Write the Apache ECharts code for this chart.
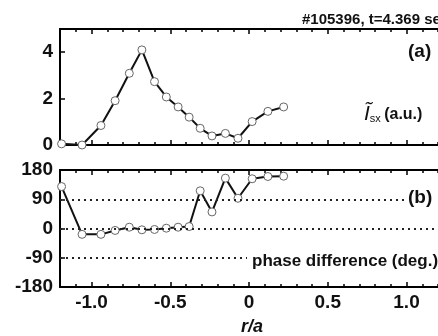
<!DOCTYPE html>
<html>
<head>
<meta charset="utf-8">
<script src="https://cdn.jsdelivr.net/npm/echarts@6/dist/echarts.min.js"></script>
<style>
  html, body { margin: 0; padding: 0; background: #fff; }
  #chart { width: 438px; height: 336px; }
</style>
</head>
<body>
<div id="chart"></div>
<script>
// radial positions r/a (shared by both panels)
const rPos = [-1.19, -1.06, -0.94, -0.85, -0.76, -0.68, -0.60, -0.525, -0.45, -0.38, -0.31, -0.235, -0.15, -0.07, 0.02, 0.12, 0.22];
// panel (a): soft x-ray fluctuation amplitude (a.u.)
const isxAmp = [0.05, 0.0, 0.84, 1.91, 3.09, 4.1, 2.73, 2.07, 1.64, 1.2, 0.72, 0.39, 0.5, 0.29, 1.01, 1.45, 1.64];
// panel (b): phase difference (deg.)
const phaseDiff = [129, -18, -18, -6, 4, -4, -3, 1, 4, 6, 116, 51, 155, 93, 153, 160, 161];

const xMajor = [-1.0, -0.5, 0, 0.5, 1.0];
const yTicksA = [0, 2, 4];
const yTicksB = [-180, -90, 0, 90, 180];

// minor tick positions every 0.1
const xMinor = [];
for (let i = -12; i <= 12; i++) xMinor.push(i / 10);

const font = "Liberation Sans";

function mkX(grid, position, ticks, len, showLabel) {
  return {
    type: "value", gridIndex: grid, position: position,
    min: -1.2, max: 1.2,
    axisLine: { show: true, onZero: false, lineStyle: { color: "#000", width: 2 } },
    axisTick: { show: true, inside: true, length: len, customValues: ticks,
      lineStyle: { color: "#000", width: 1.5 } },
    axisLabel: { show: showLabel, customValues: xMajor, margin: 6,
      fontFamily: font, fontWeight: "bold", fontSize: 19, color: "#111",
      formatter: v => (v === 0 ? "0" : v.toFixed(1)) },
    splitLine: { show: false }
  };
}

const chart = echarts.init(document.getElementById("chart"));
chart.setOption({
  animation: false,
  backgroundColor: "#fff",
  grid: [
    { left: 60, top: 29, width: 389, height: 116 },
    { left: 60, top: 170, width: 389, height: 117 }
  ],
  xAxis: [
    mkX(0, "bottom", xMajor, 5, false),
    mkX(0, "bottom", xMinor, 3, false),
    mkX(0, "top", xMajor, 5, false),
    mkX(0, "top", xMinor, 3, false),
    mkX(1, "bottom", xMajor, 5, true),
    mkX(1, "bottom", xMinor, 3, false),
    mkX(1, "top", xMajor, 5, false),
    mkX(1, "top", xMinor, 3, false)
  ],
  yAxis: [
    {
      type: "value", gridIndex: 0, min: 0, max: 5,
      axisLine: { show: true, onZero: false, lineStyle: { color: "#000", width: 2 } },
      axisTick: { show: true, inside: true, length: 5, customValues: yTicksA,
        lineStyle: { color: "#000", width: 1.5 } },
      axisLabel: { customValues: yTicksA, margin: 7, fontFamily: font,
        fontWeight: "bold", fontSize: 19, color: "#111" },
      splitLine: { show: false }
    },
    {
      type: "value", gridIndex: 1, min: -180, max: 180, interval: 90,
      axisLine: { show: true, onZero: false, lineStyle: { color: "#000", width: 2 } },
      axisTick: { show: true, inside: true, length: 5, customValues: yTicksB,
        lineStyle: { color: "#000", width: 1.5 } },
      axisLabel: { customValues: yTicksB, margin: 7, fontFamily: font, fontWeight: "bold",
        fontSize: 19, color: "#111" },
      splitLine: { show: false }
    }
  ],
  series: [
    {
      type: "line", xAxisIndex: 0, yAxisIndex: 0,
      data: rPos.map((r, i) => [r, isxAmp[i]]),
      symbol: "circle", symbolSize: 8,
      itemStyle: { color: "#fff", borderColor: "#666", borderWidth: 1 },
      lineStyle: { color: "#111", width: 2 }
    },
    {
      type: "line", xAxisIndex: 4, yAxisIndex: 1,
      data: rPos.map((r, i) => [r, phaseDiff[i]]),
      symbol: "circle", symbolSize: 8,
      itemStyle: { color: "#fff", borderColor: "#666", borderWidth: 1 },
      lineStyle: { color: "#111", width: 2 },
      markLine: {
        silent: true, symbol: "none", label: { show: false },
        lineStyle: { color: "#222", type: [2, 4], width: 2 },
        data: [{ yAxis: 90 }, { yAxis: 0 }, { yAxis: -90 }]
      }
    }
  ],
  graphic: [
    { type: "text", left: 302, top: 12, z: 100,
      style: { text: "#105396, t=4.369 sec", font: "bold 15px " + font, fill: "#111" } },
    { type: "text", left: 408, top: 42, z: 100,
      style: { text: "(a)", font: "bold 19px " + font, fill: "#111" } },
    { type: "text", left: 364, top: 104, z: 100,
      style: {
        text: "{i|Ĩ}{s|sx} {u|(a.u.)}",
        rich: {
          i: { fontFamily: font, fontStyle: "italic", fontSize: 21, fill: "#111", verticalAlign: "bottom" },
          s: { fontFamily: font, fontSize: 11, fill: "#111", padding: [8, 0, 0, 0] },
          u: { fontFamily: font, fontWeight: "bold", fontSize: 16, fill: "#111" }
        }
      } },
    { type: "text", left: 406, top: 188, z: 100,
      style: { text: "(b)", font: "bold 19px " + font, fill: "#111",
        backgroundColor: "#fff", padding: [0, 6, 0, 2] } },
    { type: "text", left: 247, top: 253, z: 100,
      style: { text: "phase difference (deg.)", font: "bold 17px " + font, fill: "#111",
        backgroundColor: "#fff", padding: [0, 12, 0, 5] } },
    { type: "text", left: 241, top: 318, z: 100,
      style: { text: "r/a", font: "italic bold 18px " + font, fill: "#111" } }
  ]
});
</script>
</body>
</html>
